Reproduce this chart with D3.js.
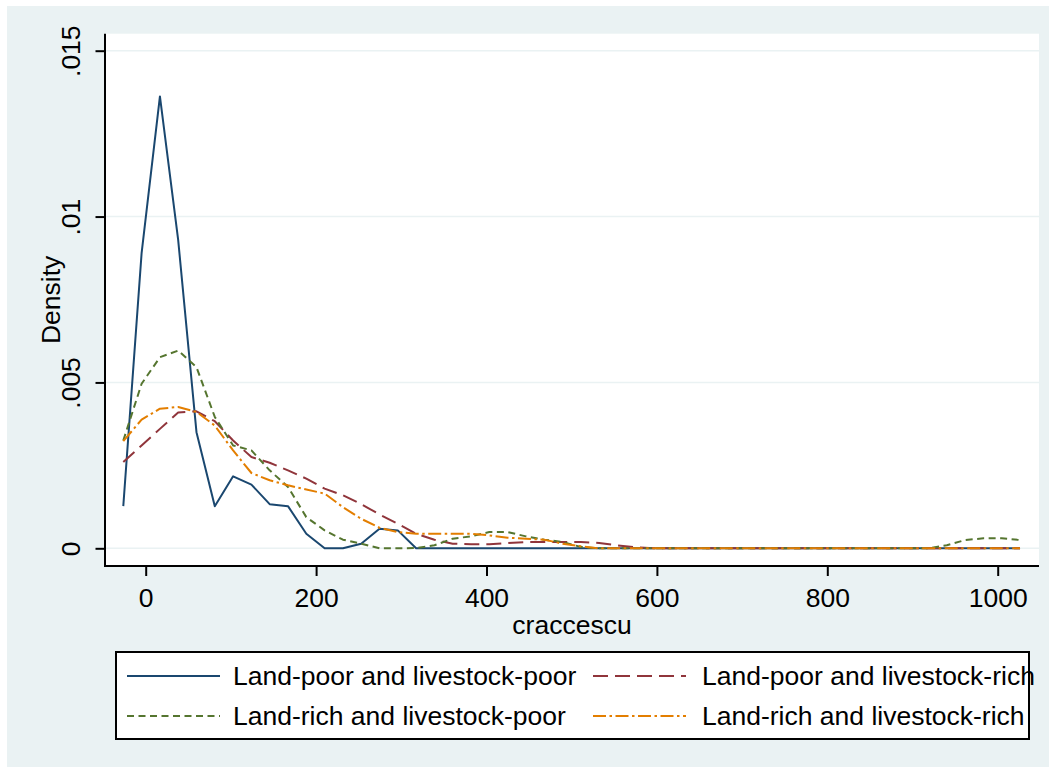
<!DOCTYPE html>
<html><head><meta charset="utf-8">
<script src="https://cdn.jsdelivr.net/npm/d3@7"></script>
<style>
body{margin:0;background:#fff}
svg{display:block}
text{font-family:"Liberation Sans",Arial,sans-serif;fill:#000}
</style>
</head><body>
<svg id="chart" width="1049" height="767"></svg>
<script>
// evaluation grid (craccescu)
const xGrid = [-26.3,-4.8,16.7,38.1,59.6,81.1,102.6,124.1,145.5,167.0,
  188.5,210.0,231.5,252.9,274.4,295.9,317.4,338.9,360.3,381.8,
  403.3,424.8,446.3,467.7,489.2,510.7,532.2,553.7,575.1,596.6,
  618.1,639.6,661.1,682.5,704.0,725.5,747.0,768.5,789.9,811.4,
  832.9,854.4,875.9,897.3,918.8,940.3,961.8,983.3,1004.7,1026.2];

const landPoorLivestockPoor = [0.00127,0.0089,0.01362,0.0093,0.0035,0.00127,0.00217,0.00192,0.00133,0.00127,
  0.00044,0,0,0.00014,0.00059,0.00054,0,0,0,0,
  0,0,0,0,0,0,0,0,0,0,
  0,0,0,0,0,0,0,0,0,0,
  0,0,0,0,0,0,0,0,0,0];

const landPoorLivestockRich = [0.0026,0.0031,0.0036,0.00409,0.00413,0.00383,0.00325,0.00275,0.00258,0.00235,
  0.0021,0.0018,0.0016,0.00133,0.00102,0.00074,0.00044,0.00026,0.00014,0.00012,
  0.00012,0.00016,0.00019,0.00019,0.00019,0.00019,0.00016,0.00009,0.00003,0,
  0,0,0,0,0,0,0,0,0,0,
  0,0,0,0,0,0,0,0,0,0];

const landRichLivestockPoor = [0.00325,0.00496,0.00576,0.00596,0.00546,0.00396,0.0031,0.00295,0.00235,0.00185,
  0.00094,0.00054,0.00026,0.00014,0,0,0.00001,0.00009,0.00029,0.00036,
  0.00049,0.00049,0.00036,0.00026,0.00019,0.00004,0,0,0,0,
  0,0,0,0,0,0,0,0,0,0,
  0,0,0,0,0,0.00009,0.00025,0.0003,0.0003,0.00025];

const landRichLivestockRich = [0.00323,0.00388,0.00421,0.00426,0.00411,0.0037,0.00295,0.00227,0.00205,0.0019,
  0.00177,0.00165,0.00124,0.00089,0.00062,0.00049,0.00044,0.00044,0.00044,0.00044,
  0.00039,0.00032,0.00029,0.00026,0.00014,0.00006,0,0,0,0,
  0,0,0,0,0,0,0,0,0,0,
  0,0,0,0,0,0,0,0,0,0];

const seriesLabels = ["Land-poor and livestock-poor","Land-poor and livestock-rich",
                      "Land-rich and livestock-poor","Land-rich and livestock-rich"];
const xTicks = [0,200,400,600,800,1000];
const xTickLabels = ["0","200","400","600","800","1000"];
const yTicks = [0,0.005,0.01,0.015];
const yTickLabels = ["0",".005",".01",".015"];
const xTitle = "craccescu";
const yTitle = "Density";

// styles (separate from data)
const seriesColors = ["#1a476f","#90353b","#55752f","#e37e00"];
const seriesDash = [null,"15,7","7,4.5","13,3.5,2.5,3.5"];
const seriesValues = [landPoorLivestockPoor,landPoorLivestockRich,landRichLivestockPoor,landRichLivestockRich];

const svg = d3.select("#chart");
const W = 1049, H = 767;
const bg = "#eaf2f3";
const FS = 26.5;

svg.append("rect").attr("x",0).attr("y",0).attr("width",W).attr("height",H).attr("fill","#fff");
svg.append("rect").attr("x",7).attr("y",6).attr("width",W-7).attr("height",H-6).attr("fill",bg);

const plot = {l:105, t:33.7, r:1039, b:566};
svg.append("rect").attr("x",plot.l).attr("y",plot.t).attr("width",plot.r-plot.l).attr("height",plot.b-plot.t).attr("fill","#fff");

const x = d3.scaleLinear().domain([0,1000]).range([145.7,997.7]);
const y = d3.scaleLinear().domain([0,0.015]).range([548.3,50.7]);

// gridlines
svg.append("g").selectAll("line").data(yTicks).join("line")
  .attr("x1",plot.l).attr("x2",plot.r)
  .attr("y1",d=>y(d)).attr("y2",d=>y(d))
  .attr("stroke",bg).attr("stroke-width",1.6);

// series
const line = d3.line().x((d,i)=>x(xGrid[i])).y(d=>y(d));
seriesValues.forEach((vals,k)=>{
  svg.append("path").datum(vals)
    .attr("d",line)
    .attr("fill","none")
    .attr("stroke",seriesColors[k])
    .attr("stroke-width",2)
    .attr("stroke-linejoin","round")
    .attr("stroke-dasharray",seriesDash[k]);
});

// axes
const yAxis = d3.axisLeft(y).tickValues(yTicks).tickFormat((d,i)=>yTickLabels[i]).tickSize(9.5).tickPadding(0);
const gy = svg.append("g").attr("transform",`translate(${plot.l},0)`).call(yAxis);
gy.select(".domain").remove();
gy.selectAll(".tick line").attr("stroke","#000").attr("stroke-width",2);
gy.selectAll(".tick text")
  .attr("x",null).attr("dy",null)
  .attr("transform","translate(-25,0) rotate(-90)")
  .attr("text-anchor","middle")
  .attr("y",0)
  .style("font-size",FS+"px")
  .style("font-family",'"Liberation Sans",Arial,sans-serif');

const xAxis = d3.axisBottom(x).tickValues(xTicks).tickFormat((d,i)=>xTickLabels[i]).tickSize(10).tickPadding(0);
const gx = svg.append("g").attr("transform",`translate(0,${plot.b})`).call(xAxis);
gx.select(".domain").remove();
gx.selectAll(".tick line").attr("stroke","#000").attr("stroke-width",2);
gx.selectAll(".tick text")
  .attr("y",41).attr("dy",null)
  .style("font-size",FS+"px")
  .style("font-family",'"Liberation Sans",Arial,sans-serif');

svg.append("line").attr("x1",plot.l).attr("x2",plot.l).attr("y1",plot.t).attr("y2",plot.b+1)
  .attr("stroke","#000").attr("stroke-width",2);
svg.append("line").attr("x1",plot.l-1).attr("x2",plot.r).attr("y1",plot.b).attr("y2",plot.b)
  .attr("stroke","#000").attr("stroke-width",2);

// titles
svg.append("text").attr("transform",`translate(60,${(plot.t+plot.b)/2}) rotate(-90)`)
  .attr("text-anchor","middle").style("font-size",FS+"px").text(yTitle);
svg.append("text").attr("x",(plot.l+plot.r)/2).attr("y",634)
  .attr("text-anchor","middle").style("font-size",FS+"px").text(xTitle);

// legend
const leg = svg.append("g");
leg.append("rect").attr("x",116).attr("y",652).attr("width",913).attr("height",87)
  .attr("fill","#fff").attr("stroke","#000").attr("stroke-width",2);
const colKeyX = [127,593];
const colTextX = [233,702];
const rowY = [676,716];
seriesLabels.forEach((lab,k)=>{
  const c = k%2, r = Math.floor(k/2);
  leg.append("line").attr("x1",colKeyX[c]).attr("x2",colKeyX[c]+93)
    .attr("y1",rowY[r]).attr("y2",rowY[r])
    .attr("stroke",seriesColors[k]).attr("stroke-width",2)
    .attr("stroke-dasharray",seriesDash[k]);
  leg.append("text").attr("x",colTextX[c]).attr("y",rowY[r]+9)
    .style("font-size",FS+"px").text(lab);
});
</script>
</body></html>
